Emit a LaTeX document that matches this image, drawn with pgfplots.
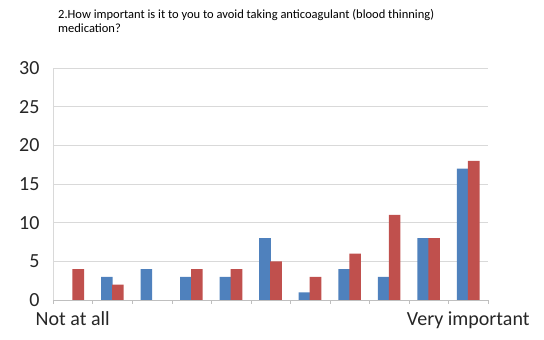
\documentclass[border=0pt]{standalone}
\usepackage{pgfplots}
\pgfplotsset{compat=1.18}
\usepackage{fontspec}
\setmainfont{Carlito}
\definecolor{barblue}{HTML}{4F81BD}
\definecolor{barred}{HTML}{C0504D}
\definecolor{gridgray}{HTML}{D9D9D9}
\definecolor{axisgray}{HTML}{BFBFBF}
\begin{document}
\begin{tikzpicture}[x=1pt,y=1pt]
\useasboundingbox (0,0) rectangle (544,340);
\node[anchor=north west, align=left, font=\fontsize{12.5}{14}\selectfont, inner sep=0pt]
  at (58,331) {2.How important is it to you to avoid taking anticoagulant (blood thinning)\\medication?};
\begin{axis}[
  at={(53pt,40pt)}, anchor=south west,
  width=435pt, height=232pt, scale only axis,
  ybar, bar width=11.6pt,
  ymin=0, ymax=30, ytick={0,5,...,30},
  xmin=-0.5, xmax=10.5,
  xtick={0,10}, xticklabels={Not at all, Very important},
  minor xtick={-0.5,0.5,...,10.5},
  major tick length=0pt,
  minor tick length=4pt,
  tick align=outside,
  minor tick style={axisgray},
  ymajorgrids, grid style={gridgray, line width=0.8pt},
  axis x line*=bottom, axis y line*=left,
  x axis line style={axisgray, line width=0.8pt, -},
  y axis line style={gridgray, line width=0.8pt, -},
  ticklabel style={font=\fontsize{20}{22}\selectfont, text=black!85},
  yticklabel style={xshift=-10pt},
  xticklabel style={yshift=-8pt},
  /pgf/number format/assume math mode=true,
  clip=false,
]
% zero counts are left out so that no empty bar is drawn
\addplot[fill=barblue, draw=none, bar shift=-5.5pt] coordinates {
  (1,3) (2,4) (3,3) (4,3) (5,8) (6,1) (7,4) (8,3) (9,8) (10,17)};
\addplot[fill=barred, draw=none, bar shift=5.5pt] coordinates {
  (0,4) (1,2) (3,4) (4,4) (5,5) (6,3) (7,6) (8,11) (9,8) (10,18)};
\end{axis}
\end{tikzpicture}
\end{document}
